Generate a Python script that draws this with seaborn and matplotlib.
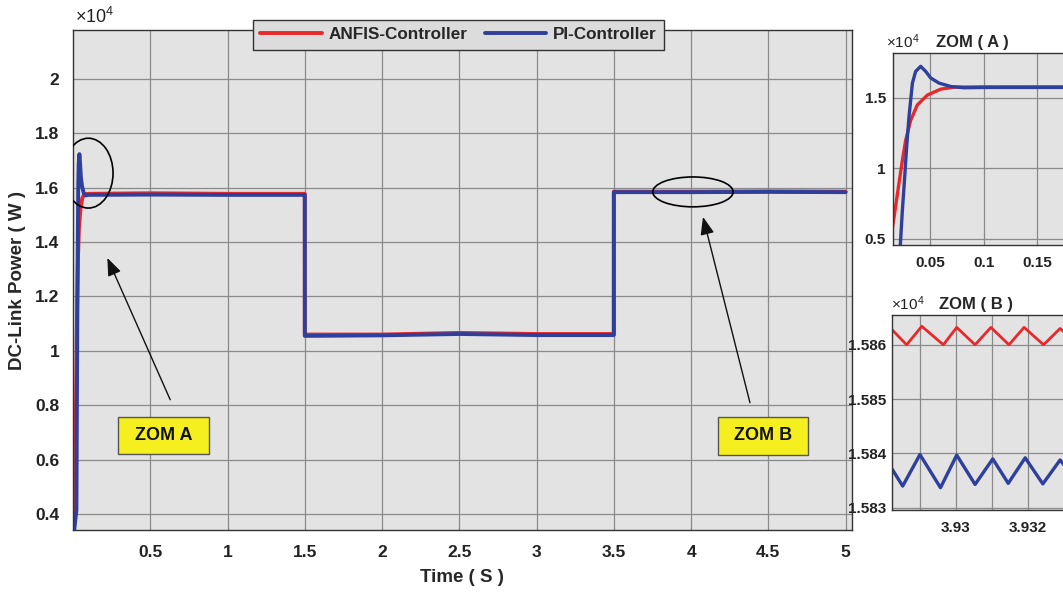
import numpy as np
import pandas as pd
import matplotlib
matplotlib.use("Agg")
import matplotlib.pyplot as plt
import seaborn as sns
from matplotlib.patches import Ellipse, Rectangle

# ---------------- data (values in units of 1e4 W) ----------------
anfis_t = [0.0, 0.0117, 0.0164, 0.0210, 0.0242, 0.0273, 0.0320, 0.0382, 0.0476, 0.060, 0.0724,
           0.10, 0.5, 1.0, 1.4999, 1.5001, 2.0, 2.5, 3.0, 3.4999, 3.5001, 4.0, 4.5, 5.0]
anfis_p = [0.30, 0.414, 0.652, 0.891, 1.056, 1.199, 1.342, 1.450, 1.520, 1.562, 1.576,
           1.578, 1.580, 1.578, 1.578, 1.060, 1.060, 1.066, 1.062, 1.062, 1.586, 1.586, 1.587, 1.586]
pi_t = [0.0, 0.0220, 0.0242, 0.0264, 0.0282, 0.0304, 0.0336, 0.0366, 0.0413, 0.0460, 0.0507,
        0.0584, 0.0693, 0.0818, 0.10, 0.5, 1.0, 1.4999, 1.5001, 2.0, 2.5, 3.0, 3.4999, 3.5001,
        4.0, 4.5, 5.0]
pi_p = [0.30, 0.414, 0.700, 0.940, 1.152, 1.366, 1.605, 1.688, 1.724, 1.688, 1.641,
        1.605, 1.581, 1.572, 1.574, 1.575, 1.574, 1.574, 1.055, 1.057, 1.062, 1.058, 1.058, 1.584,
        1.584, 1.585, 1.584]

# zoom B: ripple vertices
zb_anfis_t = [3.92822, 3.92863, 3.92905, 3.92965, 3.93002, 3.93053, 3.93097, 3.93147,
              3.93189, 3.93243, 3.93289, 3.93340]
zb_anfis_p = [1.58628, 1.58600, 1.58634, 1.58600, 1.58632, 1.58600, 1.58632, 1.58600,
              1.58632, 1.58600, 1.58630, 1.58600]
zb_pi_t = [3.92822, 3.92852, 3.92900, 3.92957, 3.93002, 3.93053, 3.93102, 3.93145,
           3.93192, 3.93241, 3.93289, 3.93340]
zb_pi_p = [1.58372, 1.58340, 1.58398, 1.58337, 1.58397, 1.58343, 1.58390, 1.58345,
           1.58392, 1.58344, 1.58388, 1.58345]

main_xticks = [0.5, 1, 1.5, 2, 2.5, 3, 3.5, 4, 4.5, 5]
main_yticks = [0.4, 0.6, 0.8, 1.0, 1.2, 1.4, 1.6, 1.8, 2.0]
za_xticks = [0.05, 0.1, 0.15]
za_yticks = [0.5, 1.0, 1.5]
zb_xticks = [3.929, 3.930, 3.931, 3.932]
zb_xlabels = ["", "3.93", "", "3.932"]
zb_yticks = [1.583, 1.584, 1.585, 1.586]
zb_ylabels = ["1.583", "1.584", "1.585", "1.586"]

RED = "#e8282b"
BLUE = "#2f3f9c"
BG = "#e3e3e3"
GRID = "#8a8a8a"

sns.set_theme(style="whitegrid")
plt.rcParams["font.family"] = ["Liberation Sans", "DejaVu Sans"]
plt.rcParams["font.weight"] = "bold"
plt.rcParams["axes.labelweight"] = "bold"
plt.rcParams["mathtext.default"] = "regular"

fig = plt.figure(figsize=(10.63, 5.93), dpi=100)
fig.patch.set_facecolor("white")

def style_ax(ax, pad=6):
    ax.set_facecolor(BG)
    ax.grid(True, color=GRID, linewidth=0.9)
    for s in ax.spines.values():
        s.set_color("#333333")
        s.set_linewidth(1.0)
    ax.tick_params(direction="in", length=4, width=0.8, colors="#222222",
                   labelcolor="#222222", pad=pad)

def exp_label(ax, x, y, size):
    ax.text(x, y, r"$\times10^{4}$", transform=ax.transAxes, fontsize=size,
            fontweight="normal", ha="left", va="bottom", color="#222222")

# ---------------- main axes ----------------
ax = fig.add_axes([0.0687, 0.106, 0.7326, 0.843])
df_a = pd.DataFrame({"t": anfis_t, "p": anfis_p})
df_p = pd.DataFrame({"t": pi_t, "p": pi_p})
sns.lineplot(data=df_a, x="t", y="p", ax=ax, color=RED, linewidth=2.8, sort=False,
             estimator=None, label="ANFIS-Controller")
sns.lineplot(data=df_p, x="t", y="p", ax=ax, color=BLUE, linewidth=2.8, sort=False,
             estimator=None, label="PI-Controller")
ax.set_xlim(0, 5.04)
ax.set_ylim(0.34, 2.18)
ax.set_xticks(main_xticks)
ax.set_xticklabels([f"{v:g}" for v in main_xticks], fontsize=12.5, fontweight="bold")
ax.set_yticks(main_yticks)
ax.set_yticklabels([f"{v:g}" for v in main_yticks], fontsize=12.5, fontweight="bold")
style_ax(ax)
ax.tick_params(axis="x", pad=11)
ax.tick_params(axis="y", pad=10)
ax.set_xlabel("Time ( S )", fontsize=13.5, fontweight="bold", labelpad=6)
ax.set_ylabel("DC-Link Power ( W )", fontsize=13.5, fontweight="bold", labelpad=6)
exp_label(ax, 0.002, 1.006, 13)

leg = ax.legend(loc="upper center", bbox_to_anchor=(0.495, 1.027), ncol=2,
                frameon=True, fancybox=False, handlelength=3.6, handletextpad=0.4,
                columnspacing=1.0, borderpad=0.42, borderaxespad=0.2,
                prop={"weight": "bold", "size": 12.3})
leg.get_frame().set_facecolor("#dcdcdc")
leg.get_frame().set_edgecolor("#333333")
leg.get_frame().set_alpha(1)
for line in leg.get_lines():
    line.set_linewidth(2.8)

# ellipses
ax.add_patch(Ellipse((0.099, 1.654), 0.32, 0.257, fill=False, edgecolor="black", linewidth=1.2, zorder=5))
ax.add_patch(Ellipse((4.012, 1.585), 0.52, 0.11, fill=False, edgecolor="black", linewidth=1.2, zorder=5))

# arrows
ax.annotate("", xy=(0.222, 1.342), xytext=(0.629, 0.820),
            arrowprops=dict(arrowstyle="-|>,head_length=0.9,head_width=0.35", color="#111111",
                            lw=1.0, shrinkA=0, shrinkB=0))
ax.annotate("", xy=(4.077, 1.493), xytext=(4.381, 0.809),
            arrowprops=dict(arrowstyle="-|>,head_length=0.9,head_width=0.35", color="#111111",
                            lw=1.0, shrinkA=0, shrinkB=0))

# yellow boxes
for (x0, x1, y0, y1, txt) in [(0.293, 0.881, 0.621, 0.757, "ZOM A"),
                              (4.174, 4.756, 0.617, 0.757, "ZOM B")]:
    ax.add_patch(Rectangle((x0, y0), x1 - x0, y1 - y0, facecolor="#f5ef1f",
                           edgecolor="#555555", linewidth=1.0, zorder=6))
    ax.text((x0 + x1) / 2, (y0 + y1) / 2, txt, fontsize=13, fontweight="bold",
            ha="center", va="center", zorder=7, color="#111111")

# ---------------- inset A ----------------
axa = fig.add_axes([0.840, 0.587, 0.180, 0.324])
sns.lineplot(data=df_a, x="t", y="p", ax=axa, color=RED, linewidth=2.4, sort=False, estimator=None)
sns.lineplot(data=df_p, x="t", y="p", ax=axa, color=BLUE, linewidth=2.4, sort=False, estimator=None)
axa.set_xlim(0.0154, 0.194)
axa.set_ylim(0.457, 1.82)
axa.set_xticks(za_xticks)
axa.set_xticklabels([f"{v:g}" for v in za_xticks], fontsize=11, fontweight="bold")
axa.set_yticks(za_yticks)
axa.set_yticklabels([f"{v:g}" for v in za_yticks], fontsize=11, fontweight="bold")
style_ax(axa, pad=5)
axa.tick_params(axis="x", pad=8)
axa.set_xlabel("")
axa.set_ylabel("")
axa.set_title("ZOM ( A )", fontsize=12, fontweight="bold", loc="left", x=0.225, pad=4)
exp_label(axa, -0.035, 1.01, 11)

# ---------------- inset B ----------------
axb = fig.add_axes([0.839, 0.140, 0.181, 0.329])
df_ba = pd.DataFrame({"t": zb_anfis_t, "p": zb_anfis_p})
df_bp = pd.DataFrame({"t": zb_pi_t, "p": zb_pi_p})
sns.lineplot(data=df_ba, x="t", y="p", ax=axb, color=RED, linewidth=2.0, sort=False, estimator=None)
sns.lineplot(data=df_bp, x="t", y="p", ax=axb, color=BLUE, linewidth=2.4, sort=False, estimator=None)
axb.set_xlim(3.92822, 3.93356)
axb.set_ylim(1.58296, 1.58655)
axb.set_xticks(zb_xticks)
axb.set_xticklabels(zb_xlabels, fontsize=11, fontweight="bold")
axb.set_yticks(zb_yticks)
axb.set_yticklabels(zb_ylabels, fontsize=11, fontweight="bold")
style_ax(axb, pad=4)
axb.tick_params(axis="x", pad=8)
axb.set_xlabel("")
axb.set_ylabel("")
axb.set_title("ZOM ( B )", fontsize=12, fontweight="bold", loc="left", x=0.245, pad=4)
exp_label(axb, -0.005, 1.01, 11)

fig.savefig("out.png", dpi=100)
